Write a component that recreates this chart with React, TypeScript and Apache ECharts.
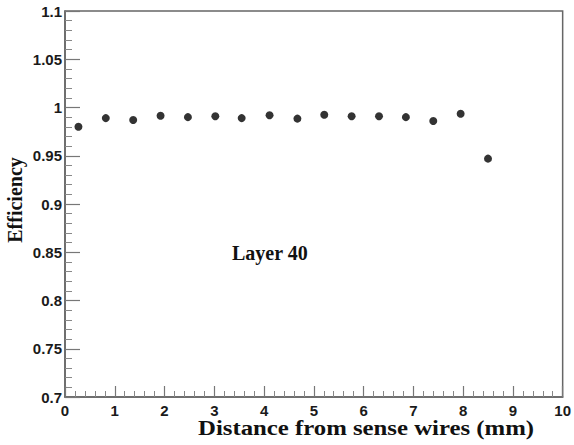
import React, { useEffect, useRef } from "react";
import * as echarts from "echarts";

const distances = [0.27, 0.82, 1.37, 1.92, 2.47, 3.02, 3.55, 4.11, 4.67, 5.21, 5.76, 6.31, 6.85, 7.4, 7.95, 8.5];
const efficiency = [0.980, 0.989, 0.987, 0.9915, 0.990, 0.991, 0.989, 0.992, 0.9885, 0.9925, 0.991, 0.991, 0.990, 0.986, 0.9935, 0.947];
const xTitle = "Distance from sense wires (mm)";
const yTitle = "Efficiency";
const annotation = "Layer 40";

export default function App() {
  const ref = useRef<HTMLDivElement>(null);
  useEffect(() => {
    if (!ref.current) return;
    const chart = echarts.init(ref.current, undefined, { renderer: "svg" });
    const axisLine = { show: true, lineStyle: { color: "#666", width: 1.5 } };
    const labelStyle = {
      fontFamily: "Liberation Sans",
      fontWeight: "bold" as const,
      fontSize: 15,
      color: "#1a1a1a",
    };
    chart.setOption({
      animation: false,
      backgroundColor: "#fff",
      grid: {
        left: 65,
        top: 11,
        right: 9,
        bottom: 48,
        show: true,
        borderColor: "#666",
        borderWidth: 1.5,
        backgroundColor: "transparent",
      },
      xAxis: {
        type: "value",
        min: 0,
        max: 10,
        interval: 1,
        axisLine,
        axisTick: { show: true, inside: true, length: 11, lineStyle: { color: "#777", width: 1.2 } },
        minorTick: { show: true, splitNumber: 5, length: 6, lineStyle: { color: "#888", width: 1 } },
        splitLine: { show: false },
        axisLabel: { ...labelStyle, margin: 6 },
      },
      yAxis: {
        type: "value",
        min: 0.7,
        max: 1.1,
        interval: 0.05,
        axisLine,
        axisTick: { show: true, inside: true, length: 15, lineStyle: { color: "#777", width: 1.2 } },
        minorTick: { show: true, splitNumber: 5, length: 7, lineStyle: { color: "#888", width: 1 } },
        splitLine: { show: false },
        axisLabel: {
          ...labelStyle,
          margin: 3,
          formatter: (v: number) => String(Math.round(v * 100) / 100),
        },
      },
      series: [
        {
          type: "scatter",
          data: distances.map((d, i) => [d, efficiency[i]]),
          symbol: "circle",
          symbolSize: 8,
          itemStyle: { color: "#000" },
        },
      ],
      graphic: [
        {
          type: "text",
          x: 198,
          y: 428,
          scaleX: 1.18,
          style: {
            text: xTitle,
            fontFamily: "Liberation Serif",
            fontWeight: "bold",
            fontSize: 21,
            fill: "#111",
            verticalAlign: "middle",
          },
        },
        {
          type: "text",
          x: 15,
          y: 200,
          rotation: Math.PI / 2,
          style: {
            text: yTitle,
            fontFamily: "Liberation Serif",
            fontWeight: "bold",
            fontSize: 20,
            fill: "#111",
            align: "center",
            verticalAlign: "middle",
          },
        },
        {
          type: "text",
          left: 232,
          top: 243,
          style: {
            text: annotation,
            fontFamily: "Liberation Serif",
            fontWeight: "bold",
            fontSize: 20,
            fill: "#111",
          },
        },
      ],
    });
    return () => chart.dispose();
  }, []);
  return <div ref={ref} style={{ width: 574, height: 445, position: "fixed", left: 0, top: 0 }} />;
}
